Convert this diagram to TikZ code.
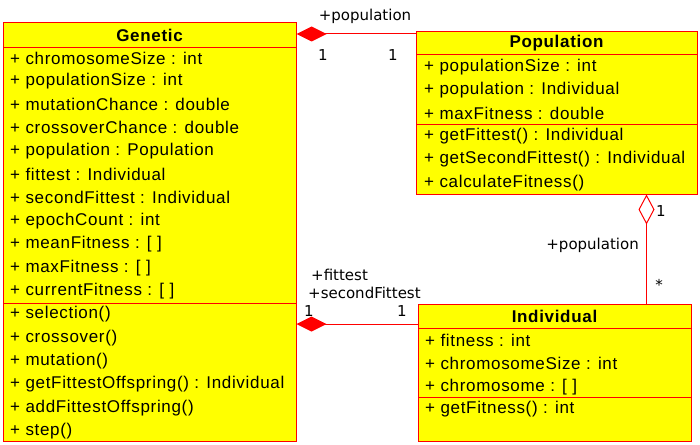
\documentclass[tikz,border=0pt]{standalone}
\usepackage{fontspec}
\setmainfont{Liberation Sans}
\newfontfamily\rowfont[LetterSpace=4]{Liberation Sans}
\newfontfamily\lblfont{DejaVu Sans}
\usetikzlibrary{arrows.meta}
\definecolor{umlyellow}{RGB}{255,255,0}
\definecolor{umlred}{RGB}{255,0,0}
\begin{document}
\begin{tikzpicture}[x=1pt,y=-1pt,
  box/.style={draw=umlred,fill=umlyellow,line width=1pt,inner sep=0pt},
  sep/.style={draw=umlred,line width=1pt},
  row/.style={anchor=west,inner sep=0pt,font=\rowfont\fontsize{17}{18}\selectfont},
  title/.style={inner sep=0pt,font=\rowfont\fontsize{17}{18}\selectfont\bfseries},
  lbl/.style={inner sep=0pt,font=\lblfont\fontsize{15}{16}\selectfont},
  assoc/.style={draw=umlred,line width=1pt},
  comp/.style={{Diamond[length=30pt,width=15pt,fill=umlred]}-},
  aggr/.style={{Diamond[open,length=30pt,width=16pt,fill=white]}-}]
\useasboundingbox (0,0) rectangle (700,444);
% Genetic
\node[box,minimum width=293pt,minimum height=418pt] (genetic) at (149.5,232) {};
\draw[sep] (3,47.5) -- (296,47.5);
\draw[sep] (3,303) -- (296,303);
\node[title] (gt) at (149.5,35) {Genetic};
\node[row] (g1) at (10,58) {+ chromosomeSize : int};
\node[row] (g2) at (10,81.3) {+ populationSize : int};
\node[row] (g3) at (10,104.6) {+ mutationChance : double};
\node[row] (g4) at (10,127.9) {+ crossoverChance : double};
\node[row] (g5) at (10,151.2) {+ population : Population};
\node[row] (g6) at (10,174.5) {+ fittest : Individual};
\node[row] (g7) at (10,197.8) {+ secondFittest : Individual};
\node[row] (g8) at (10,221.1) {+ epochCount : int};
\node[row] (g9) at (10,244.4) {+ meanFitness : [ ]};
\node[row] (g10) at (10,267.7) {+ maxFitness : [ ]};
\node[row] (g11) at (10,291) {+ currentFitness : [ ]};
\node[row] (g12) at (10,314.5) {+ selection()};
\node[row] (g13) at (10,337.8) {+ crossover()};
\node[row] (g14) at (10,361.1) {+ mutation()};
\node[row] (g15) at (10,384.4) {+ getFittestOffspring() : Individual};
\node[row] (g16) at (10,407.7) {+ addFittestOffspring()};
\node[row] (g17) at (10,431) {+ step()};
% Population
\node[box,minimum width=281pt,minimum height=162pt] (population) at (556.5,113) {};
\draw[sep] (416,54.5) -- (697,54.5);
\draw[sep] (416,124.5) -- (697,124.5);
\node[title] (pt) at (556.5,43) {Population};
\node[row] (p1) at (424,67) {+ populationSize : int};
\node[row] (p2) at (424,90.3) {+ population : Individual};
\node[row] (p3) at (424,113.6) {+ maxFitness : double};
\node[row] (p4) at (424,136) {+ getFittest() : Individual};
\node[row] (p5) at (424,159.3) {+ getSecondFittest() : Individual};
\node[row] (p6) at (424,182.6) {+ calculateFitness()};
% Individual
\node[box,minimum width=273pt,minimum height=137pt] (individual) at (554.5,372.5) {};
\draw[sep] (418,328) -- (691,328);
\draw[sep] (418,397.5) -- (691,397.5);
\node[title] (it) at (554.5,316) {Individual};
\node[row] (i1) at (425,340) {+ fitness : int};
\node[row] (i2) at (425,363.3) {+ chromosomeSize : int};
\node[row] (i3) at (425,386.6) {+ chromosome : [ ]};
\node[row] (i4) at (425,409) {+ getFitness() : int};
% connectors
\draw[assoc,comp] (genetic.east |- 0,34) -- (population.west |- 0,34);
\node[lbl] (l1) at (365,16) {+population};
\node[lbl] (l2) at (323,55) {1};
\node[lbl] (l3) at (393,55) {1};
\draw[assoc,aggr] (population.south -| 646.5,0) -- (individual.north -| 646.5,0);
\node[lbl] (l4) at (661,211) {1};
\node[lbl,anchor=east] (l5) at (639,245) {+population};
\node[lbl] (l6) at (659,285) {*};
\draw[assoc,comp] (genetic.east |- 0,324) -- (individual.west |- 0,324);
\node[lbl,anchor=west] (l7) at (311,275) {+fittest};
\node[lbl,anchor=west] (l8) at (308,293) {+secondFittest};
\node[lbl] (l9) at (309,311) {1};
\node[lbl] (l10) at (402,311) {1};
\end{tikzpicture}
\end{document}
